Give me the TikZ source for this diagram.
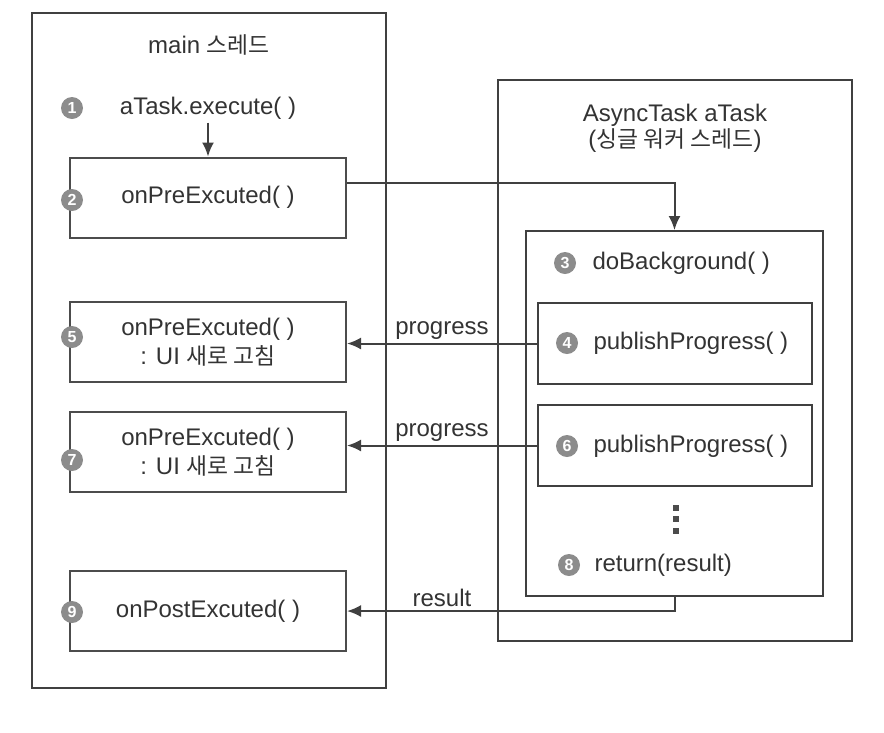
\documentclass[tikz,border=0pt]{standalone}
\usepackage{fontspec}
\setmainfont{Liberation Sans}
\newfontfamily\krfont[Scale=0.95]{Noto Sans CJK KR}
\usepackage{tikz}
\usetikzlibrary{arrows.meta}

\begin{document}
\begin{tikzpicture}[x=1pt, y=-1pt,
    font=\fontsize{24}{29}\selectfont, text=black!80,
    thread/.style={draw=black!75, line width=2pt, minimum width=354pt, inner sep=0pt},
    callbox/.style={draw=black!70, line width=2pt, minimum width=276pt, minimum height=80pt, align=center, inner sep=0pt},
    workbox/.style={draw=black!75, line width=2pt, minimum width=274pt, minimum height=81pt, inner sep=0pt},
    num/.style={circle, fill=black!45, text=white, minimum size=22pt, inner sep=0pt, font=\fontsize{16}{16}\selectfont\bfseries},
    flow/.style={draw=black!75, line width=2pt, -{Latex[length=14pt,width=12pt]}}]
    \useasboundingbox (0,0) rectangle (884,732);

    % the two threads
    \node[thread, minimum height=675pt] (mainthr) at (209,350.5) {};
    \node[thread, minimum height=561pt] (worker) at (675,360.5) {};
    \node (maintitle) at (209,45) {main {\krfont 스레드}};
    \node[align=center] (worktitle) at (675,128) {AsyncTask aTask\\[-3pt]({\krfont 싱글 워커 스레드})};

    % main thread side
    \node[num] (n1) at (72,108) {1};
    \node (exec) at (208,108) {aTask.execute( )};
    \node[callbox] (pre2) at (208,197.5) {onPreExcuted( )};
    \node[num] (n2) at (72,200) {2};
    \node[callbox] (ui5) at (208,342) {onPreExcuted( )\\: UI {\krfont 새로 고침}};
    \node[num] (n5) at (72,337) {5};
    \node[callbox] (ui7) at (208,452) {onPreExcuted( )\\: UI {\krfont 새로 고침}};
    \node[num] (n7) at (72,460) {7};
    \node[callbox] (post9) at (208,611) {onPostExcuted( )};
    \node[num] (n9) at (72,612) {9};

    % worker thread side
    \node[draw=black!75, line width=2pt, minimum width=297pt, minimum height=365pt, inner sep=0pt] (bg) at (674.5,413.5) {};
    \node[num] (n3) at (565,263) {3};
    \node[anchor=west] (bgtext) at (589,263) {doBackground( )};
    \node[workbox] (pp4) at (675,343.5) {};
    \node[num] (n4) at (567,343) {4};
    \node[anchor=west] (pp4text) at (590,343) {publishProgress( )};
    \node[workbox] (pp6) at (675,445.5) {};
    \node[num] (n6) at (567,446) {6};
    \node[anchor=west] (pp6text) at (590,446) {publishProgress( )};
    \foreach \yy in {508,519,531}
        \fill[black!70] (673,\yy-3) rectangle (679,\yy+3);
    \node[num] (n8) at (569,565) {8};
    \node[anchor=west] (rettext) at (591,565) {return(result)};

    % calls and messages
    \draw[flow] (exec) -- (pre2);
    \draw[flow] ([yshift=15pt]pre2.east) -| (bg.north);
    \draw[flow] (pp4.west) -- (pp4.west -| ui5.east) node[midway, above] {progress};
    \draw[flow] (pp6.west) -- (pp6.west -| ui7.east) node[midway, above] {progress};
    \draw[flow] (bg.south) |- (post9.east) node[pos=0.855, above] {result};
\end{tikzpicture}
\end{document}
